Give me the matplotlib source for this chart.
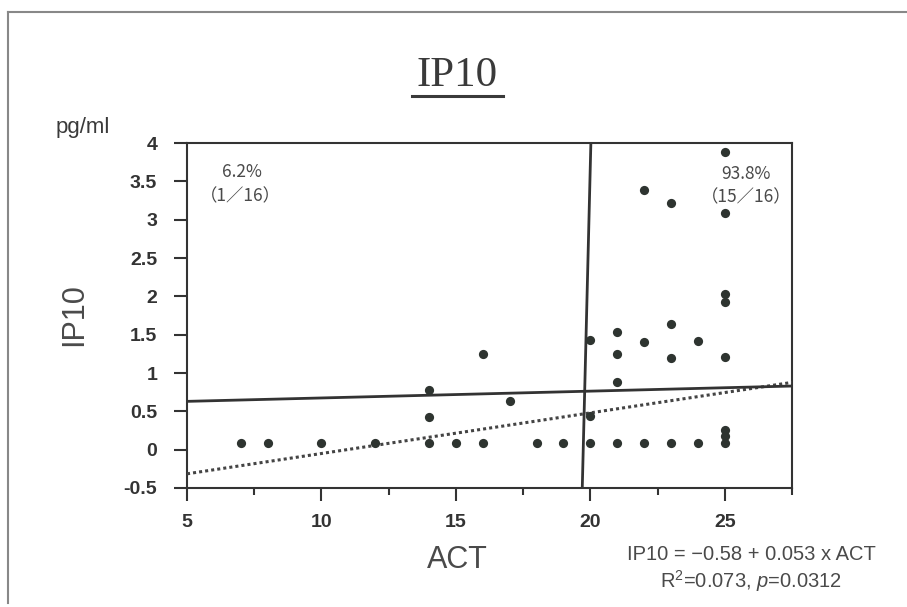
import matplotlib
matplotlib.use("Agg")
import matplotlib.pyplot as plt
from matplotlib.lines import Line2D
from matplotlib.ticker import MultipleLocator
import numpy as np

plt.rcParams['font.family'] = ['Liberation Sans', 'DejaVu Sans']
plt.rcParams['mathtext.fontset'] = 'custom'
plt.rcParams['mathtext.rm'] = 'Liberation Sans'
plt.rcParams['mathtext.it'] = 'Liberation Sans:italic'

# ---- data ----
act = [7, 8, 10, 12,
       14, 14, 14,
       15,
       16, 16,
       17, 18, 19,
       20, 20, 20,
       21, 21, 21, 21,
       22, 22, 22,
       23, 23, 23, 23,
       24, 24,
       25, 25, 25, 25, 25, 25, 25, 25]
ip10 = [0.09, 0.09, 0.09, 0.09,
        0.09, 0.43, 0.78,
        0.09,
        0.09, 1.25,
        0.64, 0.09, 0.09,
        0.09, 0.44, 1.43,
        0.09, 0.88, 1.25, 1.53,
        0.09, 1.40, 3.39,
        0.09, 1.20, 1.64, 3.22,
        0.09, 1.42,
        0.09, 0.18, 0.26, 1.21, 1.92, 2.03, 3.09, 3.88]

reg_intercept = -0.58
reg_slope = 0.053

cut_v_x = [19.7, 20.02]
cut_v_y = [-0.5, 4.0]
cut_h_x = [5.0, 27.5]
cut_h_y = [0.63, 0.83]

xlim = (5, 27.5)
ylim = (-0.5, 4)
xticks = [5, 10, 15, 20, 25]
yticks = [-0.5, 0, 0.5, 1, 1.5, 2, 2.5, 3, 3.5, 4]
ytick_labels = ['-0.5', '0', '0.5', '1', '1.5', '2', '2.5', '3', '3.5', '4']

W, H = 907, 607
fig = plt.figure(figsize=(W / 100, H / 100), dpi=100)
fig.patch.set_facecolor('white')

L, R, T, B = 187, 792, 143, 488
ax = fig.add_axes([L / W, 1 - B / H, (R - L) / W, (B - T) / H])

dark = '#333333'
txtc = '#4a4a4a'

ax.scatter(act, ip10, s=44, color='#2e3430', zorder=5, linewidths=0)

xr = np.array(xlim)
ax.plot(xr, reg_intercept + reg_slope * xr, linestyle=(0, (1, 1)), lw=2.2,
        color='#444444', zorder=3)
ax.plot(cut_h_x, cut_h_y, color=dark, lw=2.0, zorder=4, solid_capstyle='butt')
ax.plot(cut_v_x, cut_v_y, color=dark, lw=2.0, zorder=4, solid_capstyle='butt')

ax.set_xlim(*xlim)
ax.set_ylim(*ylim)
ax.set_xticks(xticks)
ax.xaxis.set_minor_locator(MultipleLocator(2.5))
ax.set_yticks(yticks)
ax.set_yticklabels(ytick_labels)
for sp in ax.spines.values():
    sp.set_color(dark)
    sp.set_linewidth(1.5)
ax.tick_params(axis='both', which='major', direction='out', length=9.5, width=1.5,
               color=dark, labelsize=14, labelcolor='#333333')
ax.tick_params(axis='y', which='major', pad=12)
ax.tick_params(axis='x', which='major', pad=9)
ax.tick_params(axis='x', which='minor', direction='out', length=5, width=1.5, color=dark)
ax.tick_params(axis='y', which='minor', left=False)
for lab in ax.get_xticklabels() + ax.get_yticklabels():
    lab.set_fontweight('bold')

# annotations inside plot
cjk = ['Noto Sans CJK JP', 'DejaVu Sans']
ax.text(7.05, 3.62, '6.2%', ha='center', va='center', fontsize=12.5,
        color=txtc, family=cjk)
ax.text(7.0, 3.3, '（1／16）', ha='center', va='center', fontsize=12.5,
        color=txtc, family=cjk)
ax.text(25.8, 3.6, '93.8%', ha='center', va='center', fontsize=12.5,
        color=txtc, family=cjk)
ax.text(25.8, 3.29, '（15／16）', ha='center', va='center', fontsize=12.5,
        color=txtc, family=cjk)

# title with underline
fig.text(457 / W, 1 - 76 / H, 'IP10', ha='center', va='center', fontsize=31,
         color='#3a3a3a', family=['Liberation Serif', 'DejaVu Serif'])
fig.add_artist(Line2D([412 / W, 503 / W], [1 - 96 / H, 1 - 96 / H],
                      color='#3a3a3a', lw=2.2))

fig.text(56 / W, 1 - 127 / H, 'pg/ml', ha='left', va='center', fontsize=16,
         color='#3a3a3a')
fig.text(74 / W, 1 - 315 / H, 'IP10', ha='center', va='center', fontsize=22,
         rotation=90, color=txtc)
fig.text(457 / W, 1 - 560 / H, 'ACT', ha='center', va='center', fontsize=22,
         color=txtc)

fig.text(751 / W, 1 - 555 / H, 'IP10 = \u22120.58 + 0.053 x ACT', ha='center',
         va='center', fontsize=14.5, color=txtc)
fig.text(751 / W, 1 - 581 / H, r'R$^2$=0.073, $\it{p}$=0.0312', ha='center',
         va='center', fontsize=14.5, color=txtc)

# outer frame
fig.add_artist(Line2D([8 / W, 8 / W], [1 - 12 / H, 1 - 603 / H], color='#888888', lw=1.5))
fig.add_artist(Line2D([8 / W, 1.0], [1 - 12 / H, 1 - 12 / H], color='#888888', lw=1.5))

fig.savefig('out.png', dpi=100, facecolor='white')
